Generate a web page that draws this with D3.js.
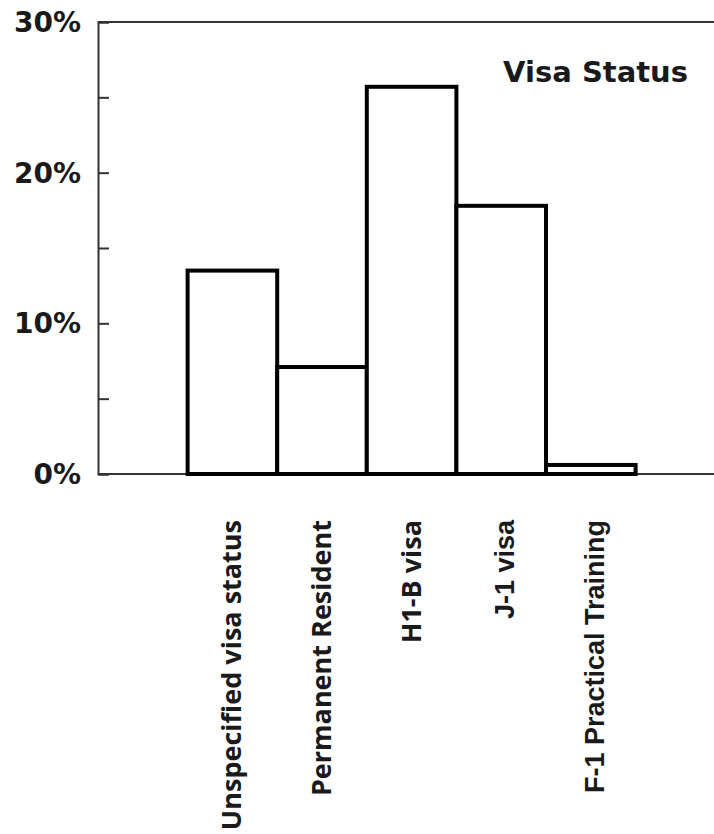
<!DOCTYPE html>
<html><head><meta charset="utf-8">
<script src="https://cdn.jsdelivr.net/npm/d3@7"></script>
<style>body{margin:0;background:#fff}</style>
</head><body>
<svg id="c" width="714" height="834"></svg>
<script>
const categories = ["Unspecified visa status","Permanent Resident","H1-B visa","J-1 visa","F-1 Practical Training"];
const values = [13.5, 7.1, 25.7, 17.8, 0.6];
const labelFonts = ["'Open Sans'","'Open Sans'","'Open Sans'","'Liberation Sans'","'Liberation Sans'"];
const yTickLabels = [0, 10, 20, 30];
const minorTicks = [0,5,10,15,20,25,30];
const title = "Visa Status";

(function(){
const svg = d3.select("#c");
const mLeft = 98, mTop = 22, mBottom = 474;
const y = d3.scaleLinear().domain([0,30]).range([mBottom, mTop]);
const step = 89.6;
const x = d3.scaleBand().domain(categories).range([mLeft + step, mLeft + step*6]).padding(0);

// frame lines
svg.append("line").attr("x1",mLeft).attr("x2",714).attr("y1",y(30)).attr("y2",y(30)).attr("stroke","#333").attr("stroke-width",2);
svg.append("line").attr("x1",mLeft).attr("x2",714).attr("y1",y(0)).attr("y2",y(0)).attr("stroke","#333").attr("stroke-width",2);

// y axis with inward ticks
const yAxis = d3.axisLeft(y).tickValues(minorTicks).tickSize(-11).tickFormat("");
const ga = svg.append("g").attr("transform",`translate(${mLeft},0)`).call(yAxis);
ga.select(".domain").attr("stroke","#333").attr("stroke-width",2);
ga.selectAll(".tick line").attr("stroke","#333").attr("stroke-width",2);

svg.selectAll(".ylab").data(yTickLabels).join("text")
  .attr("x", 81).attr("y", d=>y(d)).attr("dy","0.36em")
  .attr("text-anchor","end")
  .style("font-family","'DejaVu Sans'").style("font-weight","bold").style("font-size","28px")
  .attr("fill","#1a1a1a")
  .text(d=>d+"%");

// bars
svg.selectAll(".bar").data(categories).join("rect")
  .attr("x", d=>x(d)).attr("width", x.bandwidth())
  .attr("y", (d,i)=>y(values[i])).attr("height",(d,i)=>y(0)-y(values[i]))
  .attr("fill","#fff").attr("stroke","#000").attr("stroke-width",4);

// category labels
svg.selectAll(".xlab").data(categories).join("text")
  .attr("transform", (d,i)=>`translate(${x(d)+x.bandwidth()/2+(labelFonts[i].includes("Liberation")?13:9)},520) rotate(-90)`)
  .attr("text-anchor","end")
  .style("font-family",(d,i)=>labelFonts[i]).style("font-weight","bold").style("font-size","27px")
  .attr("fill","#1a1a1a")
  .text(d=>d);

svg.append("text").attr("x",688).attr("y",82).attr("text-anchor","end")
  .style("font-family","'DejaVu Sans'").style("font-weight","bold").style("font-size","29px")
  .attr("fill","#1a1a1a").text(title);
})();
</script>
</body></html>
